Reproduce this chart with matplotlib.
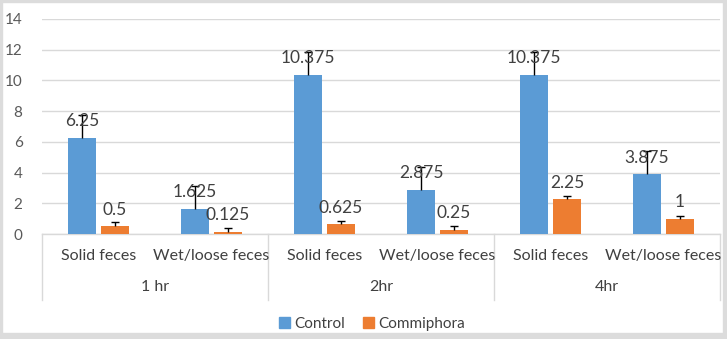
import matplotlib
matplotlib.use("Agg")
import matplotlib.pyplot as plt
from matplotlib.patches import Rectangle
import numpy as np

plt.rcParams['font.family'] = ['Lato', 'DejaVu Sans']

groups = ["1 hr", "2hr", "4hr"]
subcats = ["Solid feces", "Wet/loose feces"] * 3
control = [6.25, 1.625, 10.375, 2.875, 10.375, 3.875]
commiphora = [0.5, 0.125, 0.625, 0.25, 2.25, 1.0]
control_err = [1.5, 1.5, 1.5, 1.5, 1.5, 1.5]
commiphora_err = [0.25, 0.25, 0.25, 0.25, 0.22, 0.2]
control_labels = ["6.25", "1.625", "10.375", "2.875", "10.375", "3.875"]
commiphora_labels = ["0.5", "0.125", "0.625", "0.25", "2.25", "1"]
yticks = [0, 2, 4, 6, 8, 10, 12, 14]

W, H = 727, 339
fig = plt.figure(figsize=(W / 100, H / 100), dpi=100)
fig.patch.set_facecolor("white")

# outer gray frame
fig.add_artist(Rectangle((0, 0), 1, 6 / H, transform=fig.transFigure, color="#dcdcdc", zorder=0))
fig.add_artist(Rectangle((0, 1 - 2 / H), 1, 2 / H, transform=fig.transFigure, color="#dcdcdc", zorder=0))
fig.add_artist(Rectangle((0, 0), 2 / W, 1, transform=fig.transFigure, color="#dcdcdc", zorder=0))
fig.add_artist(Rectangle((1 - 4 / W, 0), 4 / W, 1, transform=fig.transFigure, color="#dcdcdc", zorder=0))

left, right, top, bottom = 42, 720, 19, 234
ax = fig.add_axes([left / W, 1 - bottom / H, (right - left) / W, (bottom - top) / H])

x = np.arange(len(subcats))
bw = 0.24
off = 0.146
blue = "#5B9BD5"
orange = "#ED7D31"

ax.bar(x - off, control, bw, color=blue, zorder=3)
ax.bar(x + off, commiphora, bw, color=orange, zorder=3)


def upper_err(xs, vals, errs):
    vals = np.asarray(vals)
    tops = vals + np.asarray(errs)
    ax.vlines(xs, vals, tops, color="black", linewidth=1, zorder=4)
    ax.plot(xs, tops, linestyle="none", marker="_", markersize=6,
            markeredgewidth=1, color="black", zorder=4)


upper_err(x - off, control, control_err)
upper_err(x + off, commiphora, commiphora_err)

for xi, v, lab in zip(x - off, control, control_labels):
    ax.annotate(lab, (xi, v), xytext=(0, 8.5), textcoords="offset points",
                ha="center", va="baseline", fontsize=12.5, color="#404040", zorder=5)
for xi, v, lab in zip(x + off, commiphora, commiphora_labels):
    ax.annotate(lab, (xi, v), xytext=(0, 8.5), textcoords="offset points",
                ha="center", va="baseline", fontsize=12.5, color="#404040", zorder=5)

ax.set_xlim(-0.5, 5.5)
ax.set_ylim(0, 14)
ax.set_yticks(yticks)
ax.tick_params(axis="y", length=0, labelsize=11, labelcolor="#595959", pad=14)
ax.set_xticks([])
ax.grid(axis="y", color="#d9d9d9", linewidth=1, zorder=0)
for s in ["top", "right", "left"]:
    ax.spines[s].set_visible(False)
ax.spines["bottom"].set_color("#d9d9d9")
ax.spines["bottom"].set_linewidth(1)

trans = ax.get_xaxis_transform()
axh = bottom - top
for xi, lab in zip(x, subcats):
    ax.text(xi, -22 / axh, lab, transform=trans, ha="center", va="center",
            fontsize=11.5, color="#404040")
for gi, g in enumerate(groups):
    ax.text(2 * gi + 0.5, -53 / axh, g, transform=trans, ha="center", va="center",
            fontsize=11.5, color="#404040")
for xb in [-0.5, 1.5, 3.5, 5.5]:
    ax.plot([xb, xb], [0, -66 / axh], transform=trans, color="#d9d9d9",
            linewidth=1, clip_on=False)

handles = [Rectangle((0, 0), 1, 1, color=blue), Rectangle((0, 0), 1, 1, color=orange)]
fig.legend(handles, ["Control", "Commiphora"], loc="center", bbox_to_anchor=(372 / W, 1 - 324 / H),
           ncol=2, frameon=False, fontsize=11, handlelength=0.7, handleheight=0.7,
           handletextpad=0.3, columnspacing=1.2, labelcolor="#404040")

fig.savefig("out.png", dpi=100, facecolor="white")
